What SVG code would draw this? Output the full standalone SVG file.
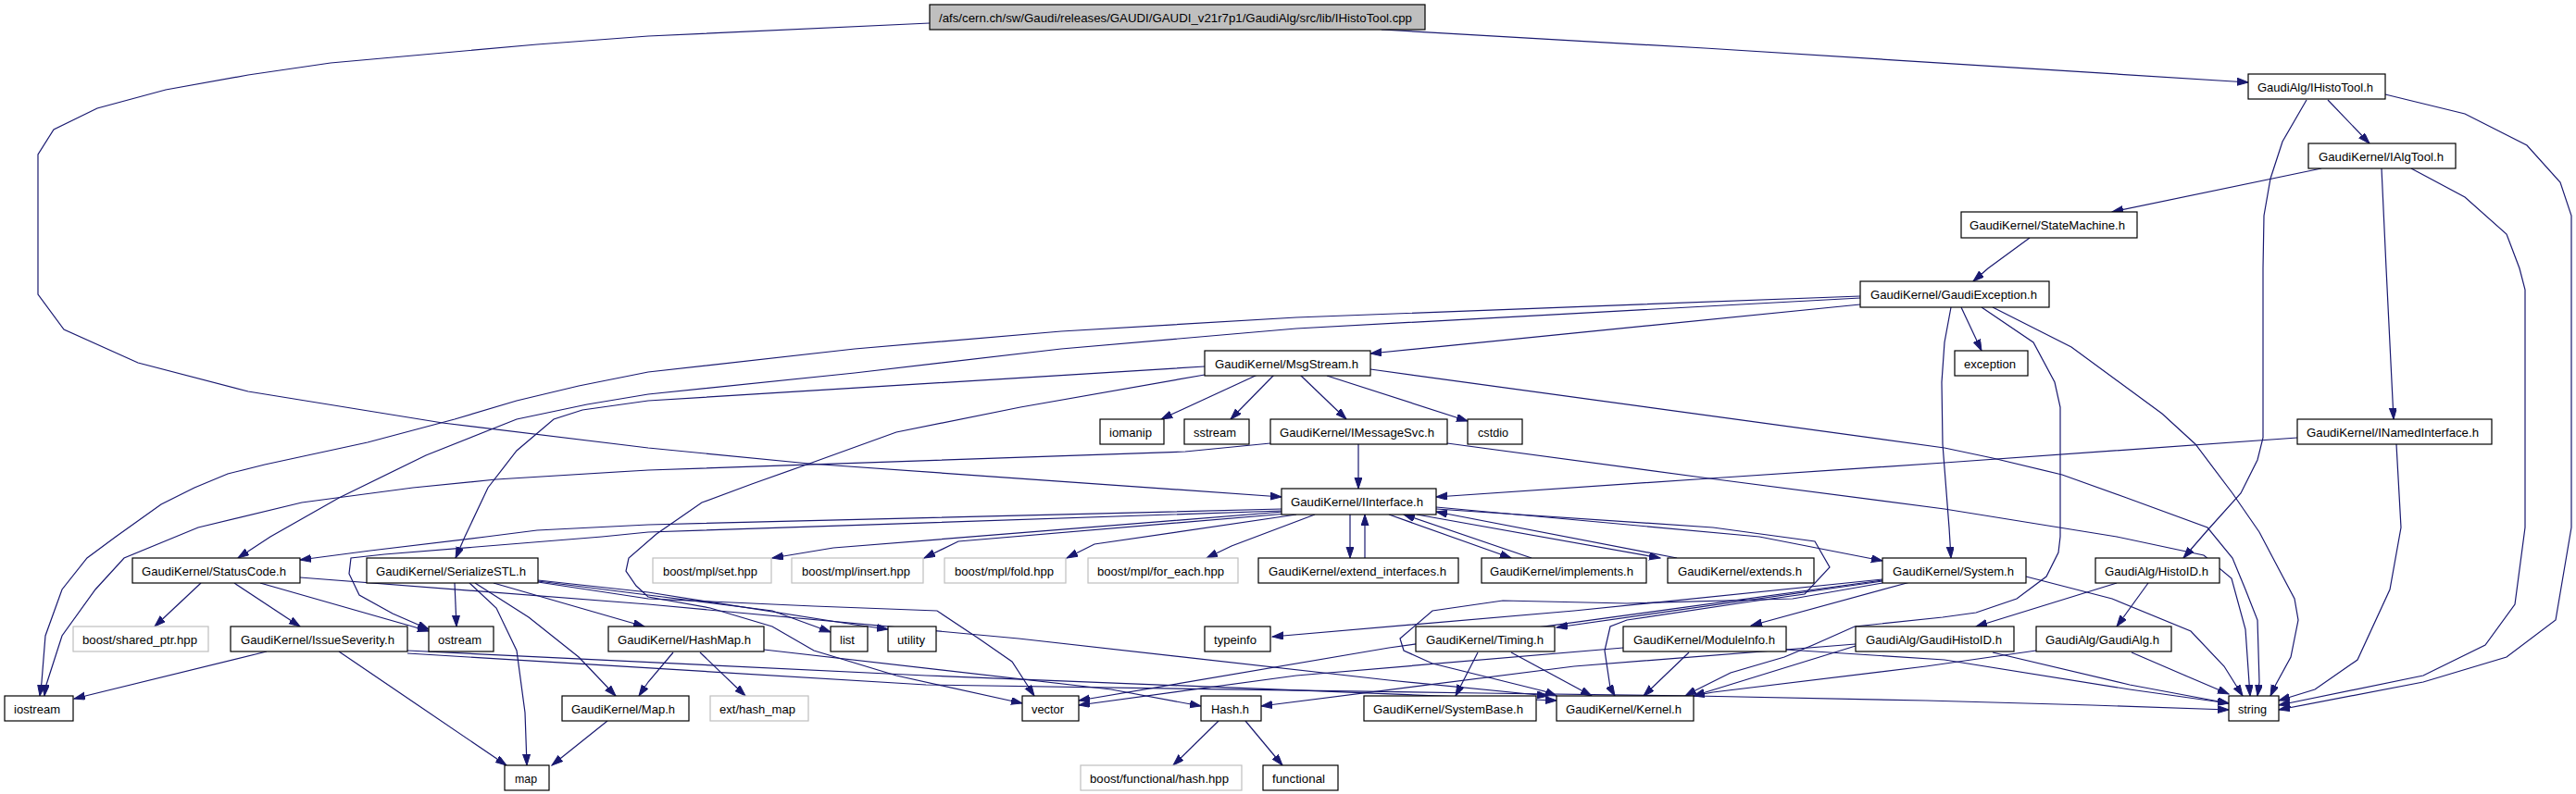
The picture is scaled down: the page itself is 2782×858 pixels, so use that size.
<svg xmlns="http://www.w3.org/2000/svg" width="2782" height="858" viewBox="0 0 2782 858">
<style>
.n rect{fill:#fff;stroke:#000;stroke-width:1.2}
.g rect{fill:#fff;stroke:#bfbfbf;stroke-width:1.2}
.r rect{fill:#bfbfbf;stroke:#000;stroke-width:1.2}
text{font-family:"Liberation Sans",Arial,sans-serif;font-size:13.5px;fill:#000}
#edges path{fill:none;stroke:#191970;stroke-width:1.2;marker-end:url(#ah)}
</style>
<defs>
<marker id="ah" markerUnits="userSpaceOnUse" markerWidth="13" markerHeight="9" refX="12" refY="4" orient="auto"><path d="M0,0 L12,4 L0,8 z" fill="#191970" stroke="#191970" stroke-width="1"/></marker>
</defs>
<rect width="2782" height="858" fill="#fff"/>
<g id="edges">
<path d="M1492,32 C1800,48 2150,72 2428,89"/>
<path d="M1004,25 L700,39 L580,48 L446,60 L357,68 L268,81 L179,97 L105,117 L58,140 L41,167 L41,318 L69,356 L149,392 L268,423 L478,457 L700,484 L874,501 L1384,537"/>
<path d="M2514,108 L2559,155"/>
<path d="M2491,108 L2465,153 L2452,193 L2445,233 L2444,290 L2444,473 L2438,497 L2420,533 L2384,573 L2358,603"/>
<path d="M2576,102 L2662,123 L2729,157 L2765,197 L2777,233 L2777,570 L2760,670 L2707,710 L2617,737 L2461,767"/>
<path d="M2507,182 L2281,229"/>
<path d="M2572,182 L2577,290 L2585,453"/>
<path d="M2604,182 L2662,213 L2707,253 L2721,290 L2727,313 L2727,570 L2716,653 L2684,697 L2617,730 L2461,762"/>
<path d="M2588,480 L2593,570 L2581,637 L2546,713 L2500,745 L2461,757"/>
<path d="M2481,473 L2100,500 L1846,517 L1551,537"/>
<path d="M2192,257 L2147,290 L2131,304"/>
<path d="M2118,332 L2140,379"/>
<path d="M2107,332 L2100,370 L2097,413 L2098,480 L2105,570 L2107,603"/>
<path d="M2140,332 L2196,370 L2219,413 L2225,440 L2225,580 L2223,597 L2210,623 L2178,647 L2134,662 L2098,667 L2003,677 L1958,697 L1927,710 L1869,727 L1829,747 L1820,752"/>
<path d="M2152,332 L2237,375 L2335,447 L2371,480 L2411,533 L2440,575 L2460,613 L2478,647 L2482,670 L2474,710 L2456,743 L2452,752"/>
<path d="M2009,329 L1480,382"/>
<path d="M2009,320 L1400,343 L1146,358 L923,377 L700,402 L625,417 L558,433 L491,453 L397,478 L286,502 L246,512 L210,527 L174,545 L125,580 L94,603 L67,637 L49,687 L45,737 L43,752"/>
<path d="M2009,322 L1400,355 L1146,377 L923,403 L700,426 L634,437 L558,453 L460,492 L366,538 L292,580 L257,603"/>
<path d="M1358,405 L1254,453"/>
<path d="M1376,405 L1329,453"/>
<path d="M1404,405 L1454,453"/>
<path d="M1433,406 L1585,455"/>
<path d="M1480,399 L2100,484 L2152,495 L2227,513 L2294,537 L2384,570 L2411,603 L2425,637 L2438,670 L2440,737 L2438,752"/>
<path d="M1301,396 L700,433 L629,443 L598,453 L558,487 L527,527 L502,580 L492,603"/>
<path d="M1301,405 L1102,440 L968,467 L874,501 L812,523 L758,543 L709,577 L679,603 L676,617 L687,633 L700,645 L767,657 L834,677 L879,703 L968,730 L1104,760"/>
<path d="M1467,480 L1467,528"/>
<path d="M1563,479 L1846,517 L2100,550 L2286,580 L2380,600 L2410,625 L2425,680 L2430,752"/>
<path d="M1372,479 L1280,488 L700,508 L536,518 L446,527 L326,543 L214,570 L134,603 L103,637 L67,687 L49,743 L48,752"/>
<path d="M1384,550 L700,567 L580,573 L525,580 L400,595 L324,605"/>
<path d="M1384,552 L700,575 L650,580 L415,599 L379,603 L377,620 L388,643 L424,663 L463,680"/>
<path d="M1386,553 L900,592 L834,603"/>
<path d="M1390,555 L1035,585 L998,603"/>
<path d="M1400,556 L1182,588 L1152,603"/>
<path d="M1420,556 L1330,590 L1303,603"/>
<path d="M1458,556 L1458,603"/>
<path d="M1474,603 L1474,556"/>
<path d="M1500,556 L1632,603"/>
<path d="M1654,603 L1516,556"/>
<path d="M1530,556 L1793,603"/>
<path d="M1811,603 L1551,553"/>
<path d="M1551,548 L1900,580 L2033,606"/>
<path d="M1551,550 L1850,570 L1960,585 L1976,613 L1949,642 L1891,650 L1757,670 L1739,677 L1733,703 L1739,743 L1744,752"/>
<path d="M217,630 L167,677"/>
<path d="M253,630 L324,677"/>
<path d="M281,630 L463,682"/>
<path d="M324,624 L700,653 L1100,690 L1500,735 L1672,752"/>
<path d="M491,630 L493,677"/>
<path d="M507,630 L536,657 L558,703 L567,770 L569,827"/>
<path d="M513,630 L571,667 L625,710 L665,752"/>
<path d="M533,630 L696,677"/>
<path d="M581,628 L700,643 L834,660 L897,683"/>
<path d="M581,627 L700,640 L923,675 L959,680"/>
<path d="M581,629 L700,647 L879,655 L1012,660 L1057,690 L1093,715 L1117,752"/>
<path d="M288,704 L80,755"/>
<path d="M366,704 L547,827"/>
<path d="M440,703 L1000,730 L1681,757"/>
<path d="M440,706 L1000,740 L1600,749 L1830,752 L2080,757 L2259,762 L2407,767"/>
<path d="M756,705 L805,752"/>
<path d="M727,705 L700,737 L690,752"/>
<path d="M825,702 L1200,745 L1297,763"/>
<path d="M656,779 L596,827"/>
<path d="M1316,779 L1267,827"/>
<path d="M1345,779 L1385,827"/>
<path d="M2033,628 L1681,678"/>
<path d="M2063,629 L1891,676"/>
<path d="M2033,626 L1700,660 L1374,688"/>
<path d="M2033,627 L1500,700 L1165,757"/>
<path d="M2188,623 L2281,647 L2366,682 L2402,720 L2422,752"/>
<path d="M2033,630 L1936,647 L1757,652 L1623,649 L1547,660 L1512,690 L1516,703 L1547,717 L1668,747 L1681,752"/>
<path d="M1596,705 L1572,752"/>
<path d="M1632,705 L1719,752"/>
<path d="M1824,705 L1775,752"/>
<path d="M1753,700 L1400,730 L1165,762"/>
<path d="M1929,702 L2100,713 L2300,745 L2407,760"/>
<path d="M2286,630 L2134,677"/>
<path d="M2320,630 L2286,677"/>
<path d="M2004,698 L1829,752"/>
<path d="M2152,705 L2300,740 L2407,760"/>
<path d="M2004,696 L1700,720 L1362,763"/>
<path d="M2199,703 L2080,720 L1850,748 L1829,752"/>
<path d="M2302,705 L2360,730 L2407,750"/>
</g>
<g id="n0" class="r"><rect x="1004" y="5" width="535" height="27"/><text x="1014" y="24" textLength="511" lengthAdjust="spacingAndGlyphs">/afs/cern.ch/sw/Gaudi/releases/GAUDI/GAUDI_v21r7p1/GaudiAlg/src/lib/IHistoTool.cpp</text></g>
<g id="n1" class="n"><rect x="2428" y="80" width="148" height="27"/><text x="2438" y="99" textLength="125" lengthAdjust="spacingAndGlyphs">GaudiAlg/IHistoTool.h</text></g>
<g id="n2" class="n"><rect x="2493" y="155" width="159" height="27"/><text x="2504" y="174" textLength="135" lengthAdjust="spacingAndGlyphs">GaudiKernel/IAlgTool.h</text></g>
<g id="n3" class="n"><rect x="2118" y="229" width="190" height="28"/><text x="2127" y="248" textLength="168" lengthAdjust="spacingAndGlyphs">GaudiKernel/StateMachine.h</text></g>
<g id="n4" class="n"><rect x="2009" y="304" width="204" height="28"/><text x="2020" y="323" textLength="180" lengthAdjust="spacingAndGlyphs">GaudiKernel/GaudiException.h</text></g>
<g id="n5" class="n"><rect x="1301" y="379" width="179" height="27"/><text x="1312" y="398" textLength="155" lengthAdjust="spacingAndGlyphs">GaudiKernel/MsgStream.h</text></g>
<g id="n6" class="n"><rect x="2111" y="379" width="79" height="27"/><text x="2121" y="398" textLength="56" lengthAdjust="spacingAndGlyphs">exception</text></g>
<g id="n7" class="n"><rect x="1188" y="453" width="69" height="27"/><text x="1198" y="472" textLength="46" lengthAdjust="spacingAndGlyphs">iomanip</text></g>
<g id="n8" class="n"><rect x="1279" y="453" width="70" height="27"/><text x="1289" y="472" textLength="46" lengthAdjust="spacingAndGlyphs">sstream</text></g>
<g id="n9" class="n"><rect x="1372" y="453" width="191" height="27"/><text x="1382" y="472" textLength="167" lengthAdjust="spacingAndGlyphs">GaudiKernel/IMessageSvc.h</text></g>
<g id="n10" class="n"><rect x="1585" y="453" width="59" height="27"/><text x="1596" y="472" textLength="33" lengthAdjust="spacingAndGlyphs">cstdio</text></g>
<g id="n11" class="n"><rect x="2481" y="453" width="210" height="27"/><text x="2491" y="472" textLength="186" lengthAdjust="spacingAndGlyphs">GaudiKernel/INamedInterface.h</text></g>
<g id="n12" class="n"><rect x="1384" y="528" width="167" height="28"/><text x="1394" y="547" textLength="143" lengthAdjust="spacingAndGlyphs">GaudiKernel/IInterface.h</text></g>
<g id="n13" class="n"><rect x="143" y="603" width="181" height="27"/><text x="153" y="622" textLength="156" lengthAdjust="spacingAndGlyphs">GaudiKernel/StatusCode.h</text></g>
<g id="n14" class="n"><rect x="396" y="603" width="185" height="27"/><text x="406" y="622" textLength="162" lengthAdjust="spacingAndGlyphs">GaudiKernel/SerializeSTL.h</text></g>
<g id="n15" class="g"><rect x="705" y="603" width="128" height="27"/><text x="716" y="622" textLength="102" lengthAdjust="spacingAndGlyphs">boost/mpl/set.hpp</text></g>
<g id="n16" class="g"><rect x="855" y="603" width="142" height="27"/><text x="866" y="622" textLength="117" lengthAdjust="spacingAndGlyphs">boost/mpl/insert.hpp</text></g>
<g id="n17" class="g"><rect x="1020" y="603" width="131" height="27"/><text x="1031" y="622" textLength="107" lengthAdjust="spacingAndGlyphs">boost/mpl/fold.hpp</text></g>
<g id="n18" class="g"><rect x="1175" y="603" width="162" height="27"/><text x="1185" y="622" textLength="137" lengthAdjust="spacingAndGlyphs">boost/mpl/for_each.hpp</text></g>
<g id="n19" class="n"><rect x="1359" y="603" width="216" height="27"/><text x="1370" y="622" textLength="192" lengthAdjust="spacingAndGlyphs">GaudiKernel/extend_interfaces.h</text></g>
<g id="n20" class="n"><rect x="1600" y="603" width="178" height="27"/><text x="1609" y="622" textLength="155" lengthAdjust="spacingAndGlyphs">GaudiKernel/implements.h</text></g>
<g id="n21" class="n"><rect x="1801" y="603" width="158" height="27"/><text x="1812" y="622" textLength="134" lengthAdjust="spacingAndGlyphs">GaudiKernel/extends.h</text></g>
<g id="n22" class="n"><rect x="2033" y="603" width="155" height="27"/><text x="2044" y="622" textLength="131" lengthAdjust="spacingAndGlyphs">GaudiKernel/System.h</text></g>
<g id="n23" class="n"><rect x="2263" y="603" width="134" height="27"/><text x="2273" y="622" textLength="112" lengthAdjust="spacingAndGlyphs">GaudiAlg/HistoID.h</text></g>
<g id="n24" class="g"><rect x="79" y="677" width="146" height="27"/><text x="89" y="696" textLength="124" lengthAdjust="spacingAndGlyphs">boost/shared_ptr.hpp</text></g>
<g id="n25" class="n"><rect x="249" y="677" width="191" height="27"/><text x="260" y="696" textLength="166" lengthAdjust="spacingAndGlyphs">GaudiKernel/IssueSeverity.h</text></g>
<g id="n26" class="n"><rect x="463" y="677" width="70" height="27"/><text x="473" y="696" textLength="47" lengthAdjust="spacingAndGlyphs">ostream</text></g>
<g id="n27" class="n"><rect x="657" y="677" width="168" height="27"/><text x="667" y="696" textLength="144" lengthAdjust="spacingAndGlyphs">GaudiKernel/HashMap.h</text></g>
<g id="n28" class="n"><rect x="897" y="677" width="40" height="27"/><text x="907" y="696" textLength="16" lengthAdjust="spacingAndGlyphs">list</text></g>
<g id="n29" class="n"><rect x="959" y="677" width="52" height="27"/><text x="969" y="696" textLength="30" lengthAdjust="spacingAndGlyphs">utility</text></g>
<g id="n30" class="n"><rect x="1301" y="677" width="71" height="27"/><text x="1311" y="696" textLength="46" lengthAdjust="spacingAndGlyphs">typeinfo</text></g>
<g id="n31" class="n"><rect x="1529" y="677" width="150" height="27"/><text x="1540" y="696" textLength="127" lengthAdjust="spacingAndGlyphs">GaudiKernel/Timing.h</text></g>
<g id="n32" class="n"><rect x="1753" y="677" width="176" height="27"/><text x="1764" y="696" textLength="153" lengthAdjust="spacingAndGlyphs">GaudiKernel/ModuleInfo.h</text></g>
<g id="n33" class="n"><rect x="2004" y="677" width="171" height="27"/><text x="2015" y="696" textLength="147" lengthAdjust="spacingAndGlyphs">GaudiAlg/GaudiHistoID.h</text></g>
<g id="n34" class="n"><rect x="2199" y="677" width="146" height="27"/><text x="2209" y="696" textLength="123" lengthAdjust="spacingAndGlyphs">GaudiAlg/GaudiAlg.h</text></g>
<g id="n35" class="n"><rect x="5" y="752" width="74" height="27"/><text x="15" y="771" textLength="50" lengthAdjust="spacingAndGlyphs">iostream</text></g>
<g id="n36" class="n"><rect x="607" y="752" width="137" height="27"/><text x="617" y="771" textLength="112" lengthAdjust="spacingAndGlyphs">GaudiKernel/Map.h</text></g>
<g id="n37" class="g"><rect x="767" y="752" width="106" height="27"/><text x="777" y="771" textLength="82" lengthAdjust="spacingAndGlyphs">ext/hash_map</text></g>
<g id="n38" class="n"><rect x="1104" y="752" width="61" height="27"/><text x="1114" y="771" textLength="35" lengthAdjust="spacingAndGlyphs">vector</text></g>
<g id="n39" class="n"><rect x="1297" y="752" width="65" height="27"/><text x="1308" y="771" textLength="41" lengthAdjust="spacingAndGlyphs">Hash.h</text></g>
<g id="n40" class="n"><rect x="1473" y="752" width="186" height="27"/><text x="1483" y="771" textLength="162" lengthAdjust="spacingAndGlyphs">GaudiKernel/SystemBase.h</text></g>
<g id="n41" class="n"><rect x="1681" y="752" width="148" height="27"/><text x="1691" y="771" textLength="125" lengthAdjust="spacingAndGlyphs">GaudiKernel/Kernel.h</text></g>
<g id="n42" class="n"><rect x="2407" y="752" width="54" height="27"/><text x="2417" y="771" textLength="31" lengthAdjust="spacingAndGlyphs">string</text></g>
<g id="n43" class="n"><rect x="545" y="827" width="48" height="27"/><text x="556" y="846" textLength="24" lengthAdjust="spacingAndGlyphs">map</text></g>
<g id="n44" class="g"><rect x="1167" y="827" width="174" height="27"/><text x="1177" y="846" textLength="150" lengthAdjust="spacingAndGlyphs">boost/functional/hash.hpp</text></g>
<g id="n45" class="n"><rect x="1364" y="827" width="81" height="27"/><text x="1374" y="846" textLength="57" lengthAdjust="spacingAndGlyphs">functional</text></g>
</svg>
